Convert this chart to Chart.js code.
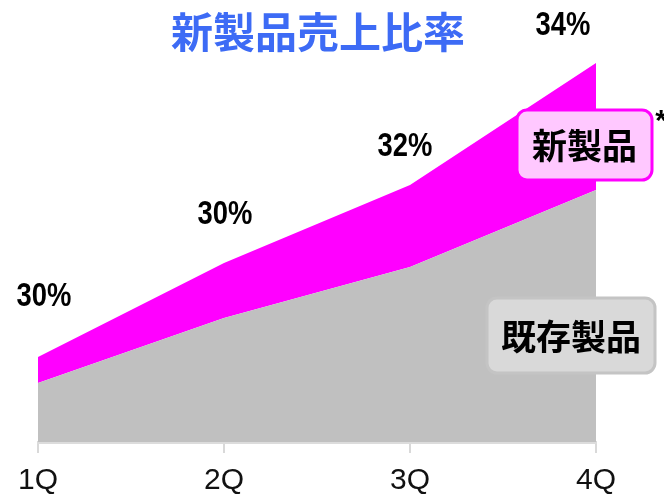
<!DOCTYPE html>
<html>
<head>
<meta charset="utf-8">
<script src="https://cdn.jsdelivr.net/npm/chart.js@4"></script>
<style>
  html, body { margin: 0; padding: 0; background: #fff; }
  #wrap { width: 664px; height: 497px; }
</style>
</head>
<body>
<div id="wrap"><canvas id="ratioChart" width="664" height="497"></canvas></div>
<script>
// data
const quarters = ['1Q', '2Q', '3Q', '4Q'];
const existingSales = [59, 124, 175, 252];
const newSales = [26, 55, 82, 127];
const ratioLabels = ['30%', '30%', '32%', '34%'];

// draws title, ratio labels and the two tag boxes
const decorPlugin = {
    id: 'decor',
    afterDraw(chart) {
        const ctx = chart.ctx;
        const x = chart.scales.x;
        const y = chart.scales.y;

        ctx.save();
        ctx.textAlign = 'center';
        ctx.textBaseline = 'middle';

        // title
        ctx.fillStyle = '#3d6bf5';
        ctx.font = 'bold 42px "Noto Sans CJK JP"';
        ctx.fillText('新製品売上比率', 318, 32);

        // ratio labels above each stack (narrowed bold face)
        const offs = [[6, -60], [1, -48], [-5, -38], [-33, -37]];
        ctx.fillStyle = '#000';
        ctx.font = 'bold 33px "Liberation Sans", sans-serif';
        ratioLabels.forEach((t, i) => {
            const px = x.getPixelForValue(i) + offs[i][0];
            const py = y.getPixelForValue(existingSales[i] + newSales[i]) + offs[i][1];
            ctx.save();
            ctx.translate(px, py);
            ctx.scale(0.83, 1);
            ctx.fillText(t, 0, 0);
            ctx.restore();
        });

        // tag boxes
        function tag(text, bx, by, bw, bh, fill, stroke) {
            ctx.beginPath();
            ctx.roundRect(bx, by, bw, bh, 10);
            ctx.fillStyle = fill;
            ctx.fill();
            ctx.lineWidth = 3;
            ctx.strokeStyle = stroke;
            ctx.stroke();
            ctx.fillStyle = '#000';
            ctx.font = 'bold 35px "Noto Sans CJK JP"';
            ctx.fillText(text, bx + bw / 2, by + bh / 2 + 1);
        }
        tag('新製品', 517, 110, 135, 70, '#ffc8ff', '#ff00ff');
        tag('既存製品', 487, 298, 168, 75, '#d9d9d9', '#c4c4c4');

        ctx.font = 'bold 30px "Liberation Sans", sans-serif';
        ctx.fillText('*', 661, 122);
        ctx.restore();
    }
};

const ctx = document.getElementById('ratioChart').getContext('2d');
new Chart(ctx, {
    type: 'line',
    data: {
        labels: quarters,
        datasets: [{
            label: '既存製品',
            data: existingSales,
            backgroundColor: '#c0c0c0',
            borderWidth: 0,
            pointRadius: 0,
            fill: 'origin'
        }, {
            label: '新製品',
            data: newSales,
            backgroundColor: '#ff00ff',
            borderWidth: 0,
            pointRadius: 0,
            fill: '-1'
        }]
    },
    options: {
        responsive: false,
        animation: false,
        layout: { padding: { left: 38, right: 68, top: 42, bottom: 0 } },
        plugins: {
            legend: { display: false },
            tooltip: { enabled: false }
        },
        scales: {
            x: {
                offset: false,
                afterFit: (scale) => { scale.height = 55; },
                grid: { drawOnChartArea: false, tickLength: 11, color: '#d9d9d9', lineWidth: 2 },
                border: { color: '#dcdcdc', width: 3 },
                ticks: {
                    color: '#111',
                    padding: 10,
                    maxRotation: 0,
                    font: { family: '"Liberation Sans", Arial, sans-serif', size: 30 }
                }
            },
            y: {
                display: false,
                stacked: true,
                min: 0,
                max: 400
            }
        }
    },
    plugins: [decorPlugin]
});
</script>
</body>
</html>
